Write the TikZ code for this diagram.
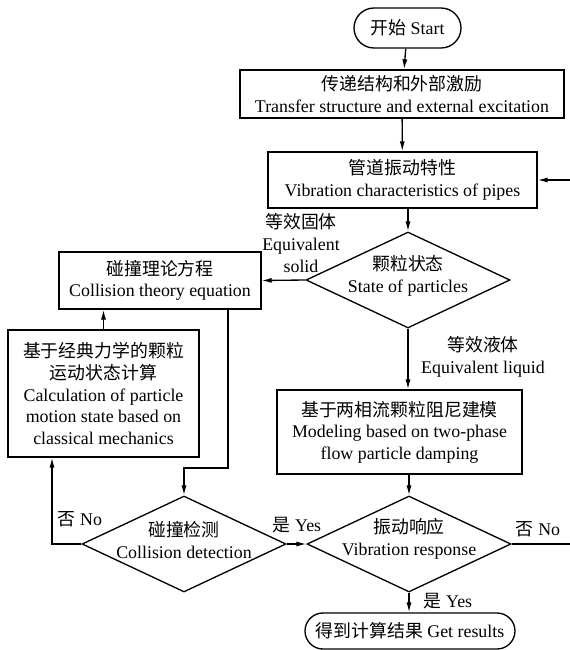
\documentclass[tikz,border=0pt]{standalone}
\usepackage{fontspec}
\setmainfont{Liberation Serif}
\newfontfamily\cjk{Noto Sans CJK SC}
\newcommand{\zh}[1]{{\cjk #1}}
\usetikzlibrary{shapes.geometric,shapes.misc,arrows.meta}

\begin{document}
\begin{tikzpicture}[x=0.75pt,y=-0.75pt,
  font=\fontsize{13.4pt}{16.2pt}\selectfont,
  line width=1pt,
  term/.style={draw,rounded rectangle,inner sep=0pt},
  box/.style={draw,rectangle,inner sep=0pt,align=center},
  dec/.style={draw,diamond,inner sep=0pt,minimum width=153pt,minimum height=72pt},
  txt/.style={align=center,inner sep=1pt},
  arr/.style={-{Latex[length=7.5pt,width=3.8pt]}}]
\useasboundingbox (0,0) rectangle (569,650);

\node[term,minimum width=80.25pt,minimum height=30pt] (start) at (407.5,28) {\zh{开始} Start};
\node[box,minimum width=243pt,minimum height=36pt] (trans) at (402,94)
  {\zh{传递结构和外部激励}\\Transfer structure and external excitation};
\node[box,minimum width=201.75pt,minimum height=42pt] (pipe) at (402.5,180)
  {\zh{管道振动特性}\\Vibration characteristics of pipes};

\node[dec] (state) at (408,280) {};
\node[txt] (statetxt) at ([yshift=3pt]state) {\zh{颗粒状态}\\State of particles};

\node[box,minimum width=151.5pt,minimum height=42.75pt] (coll) at (160,280.5)
  {\zh{碰撞理论方程}\\Collision theory equation};
\node[box,minimum width=143.25pt,minimum height=95.25pt] (calc) at (103.5,393.5)
  {\zh{基于经典力学的颗粒}\\\zh{运动状态计算}\\Calculation of particle\\motion state based on\\classical mechanics};
\node[box,minimum width=183.75pt,minimum height=63pt] (model) at (399.5,432)
  {\zh{基于两相流颗粒阻尼建模}\\Modeling based on two-phase\\flow particle damping};

\node[dec] (detect) at (184,544) {};
\node[txt] (detecttxt) at ([yshift=3pt]detect) {\zh{碰撞检测}\\Collision detection};
\node[dec] (resp) at (409,544) {};
\node[txt] (resptxt) at ([yshift=4pt]resp) {\zh{振动响应}\\Vibration response};

\node[term,minimum width=157.5pt,minimum height=27pt] (result) at (410,631) {\zh{得到计算结果} Get results};

% labels
\node[txt] (solid) at (301,243) {\zh{等效固体}\\Equivalent\\solid};
\node[txt] (liquid) at (483,357) {\zh{等效液体}\\Equivalent liquid};
\node[txt] (no1) at (80,519) {\zh{否} No};
\node[txt] (yes1) at (297,525) {\zh{是} Yes};
\node[txt] (no2) at (538,529) {\zh{否} No};
\node[txt] (yes2) at (448,601) {\zh{是} Yes};

\coordinate (k1) at (228,468);
\coordinate (k2) at (52,544);
\coordinate (k3) at (576,544);

\draw[arr] (start) -- (trans);
\draw[arr] (trans) -- (pipe);
\draw[arr] (state.north |- pipe.south) -- (state.north);
\draw[arr] (state.west) -- (coll.east);
\draw[arr] (state.south) -- (state.south |- model.north);
\draw[arr] (calc.north) -- (calc.north |- coll.south);
\draw[arr] (coll.south -| k1) -- (k1) -| (detect.north);
\draw[arr] (detect.west) -- (k2) -- (k2 |- calc.south);
\draw[arr] (resp.north |- model.south) -- (resp.north);
\draw[arr] (detect.east) -- (resp.west);
\draw[arr] (resp.south) -- (resp.south |- result.north);
\draw[arr] (resp.east) -- (k3) |- (pipe.east);
\end{tikzpicture}
\end{document}
